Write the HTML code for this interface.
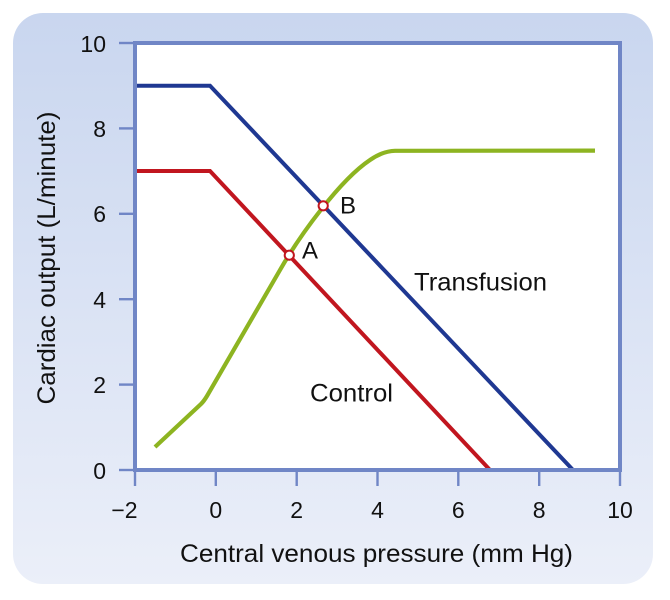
<!DOCTYPE html>
<html>
<head>
<meta charset="utf-8">
<style>
  html, body { margin: 0; padding: 0; background: #ffffff; }
  body { width: 670px; height: 600px; overflow: hidden; }
  svg { display: block; }
  text { font-family: "Liberation Sans", Arial, sans-serif; fill: #111; }
</style>
</head>
<body>
<svg width="670" height="600" viewBox="0 0 670 600" xmlns="http://www.w3.org/2000/svg">
  <defs>
    <linearGradient id="bg" x1="0" y1="0" x2="0" y2="1">
      <stop offset="0" stop-color="#c9d6ef"/>
      <stop offset="1" stop-color="#ebeff9"/>
    </linearGradient>
  </defs>
  <!-- panel -->
  <rect x="13" y="13" width="640" height="571" rx="30" ry="30" fill="url(#bg)"/>
  <!-- plot area -->
  <rect x="135" y="43" width="485" height="427" fill="#ffffff"/>

  <!-- ticks -->
  <g stroke="#7086c6" stroke-width="2.4">
    <line x1="119" y1="43" x2="135" y2="43"/>
    <line x1="119" y1="128.4" x2="135" y2="128.4"/>
    <line x1="119" y1="213.8" x2="135" y2="213.8"/>
    <line x1="119" y1="299.2" x2="135" y2="299.2"/>
    <line x1="119" y1="384.6" x2="135" y2="384.6"/>
    <line x1="119" y1="470" x2="135" y2="470"/>
    <line x1="135" y1="470" x2="135" y2="486"/>
    <line x1="215.8" y1="470" x2="215.8" y2="486"/>
    <line x1="296.7" y1="470" x2="296.7" y2="486"/>
    <line x1="377.5" y1="470" x2="377.5" y2="486"/>
    <line x1="458.3" y1="470" x2="458.3" y2="486"/>
    <line x1="539.2" y1="470" x2="539.2" y2="486"/>
    <line x1="620" y1="470" x2="620" y2="486"/>
  </g>

  <!-- curves -->
  <polyline points="135,85.7 210,85.7 573,470" fill="none" stroke="#1f3892" stroke-width="4" stroke-linejoin="miter"/>
  <polyline points="135,171 210,171 490,470" fill="none" stroke="#c1161f" stroke-width="4" stroke-linejoin="miter"/>
  <path d="M155,447 L201,404 Q204,401 207,396 L280,270 C300,235 340,180 370,160 C380,153 388,151 395,150.8 L595,150.6" fill="none" stroke="#8db421" stroke-width="4.2"/>

  <!-- frame -->
  <rect x="135" y="43" width="485" height="427" fill="none" stroke="#7086c6" stroke-width="4"/>

  <!-- intersection points -->
  <circle cx="289.3" cy="255.2" r="4.6" fill="#ffffff" stroke="#c1161f" stroke-width="2"/>
  <circle cx="323.2" cy="205.8" r="4.6" fill="#ffffff" stroke="#c1161f" stroke-width="2"/>

  <!-- y tick labels -->
  <g font-size="23" text-anchor="end">
    <text x="106" y="52">10</text>
    <text x="106" y="137">8</text>
    <text x="106" y="222">6</text>
    <text x="106" y="308">4</text>
    <text x="106" y="393">2</text>
    <text x="106" y="479">0</text>
  </g>
  <!-- x tick labels -->
  <g font-size="23" text-anchor="middle">
    <text x="124.5" y="518">−2</text>
    <text x="215.8" y="518">0</text>
    <text x="296.7" y="518">2</text>
    <text x="377.5" y="518">4</text>
    <text x="458.3" y="518">6</text>
    <text x="539.2" y="518">8</text>
    <text x="620" y="518">10</text>
  </g>

  <!-- annotations -->
  <text x="302" y="258.5" font-size="24">A</text>
  <text x="340" y="213.5" font-size="24">B</text>
  <text x="414" y="290.5" font-size="25" textLength="133" lengthAdjust="spacingAndGlyphs">Transfusion</text>
  <text x="310" y="401.5" font-size="25" textLength="83" lengthAdjust="spacingAndGlyphs">Control</text>

  <!-- axis titles -->
  <text x="180" y="562" font-size="25" textLength="393" lengthAdjust="spacingAndGlyphs">Central venous pressure (mm Hg)</text>
  <text transform="translate(55,258) rotate(-90)" x="0" y="0" font-size="25" text-anchor="middle" textLength="293" lengthAdjust="spacingAndGlyphs">Cardiac output (L/minute)</text>
</svg>
</body>
</html>
